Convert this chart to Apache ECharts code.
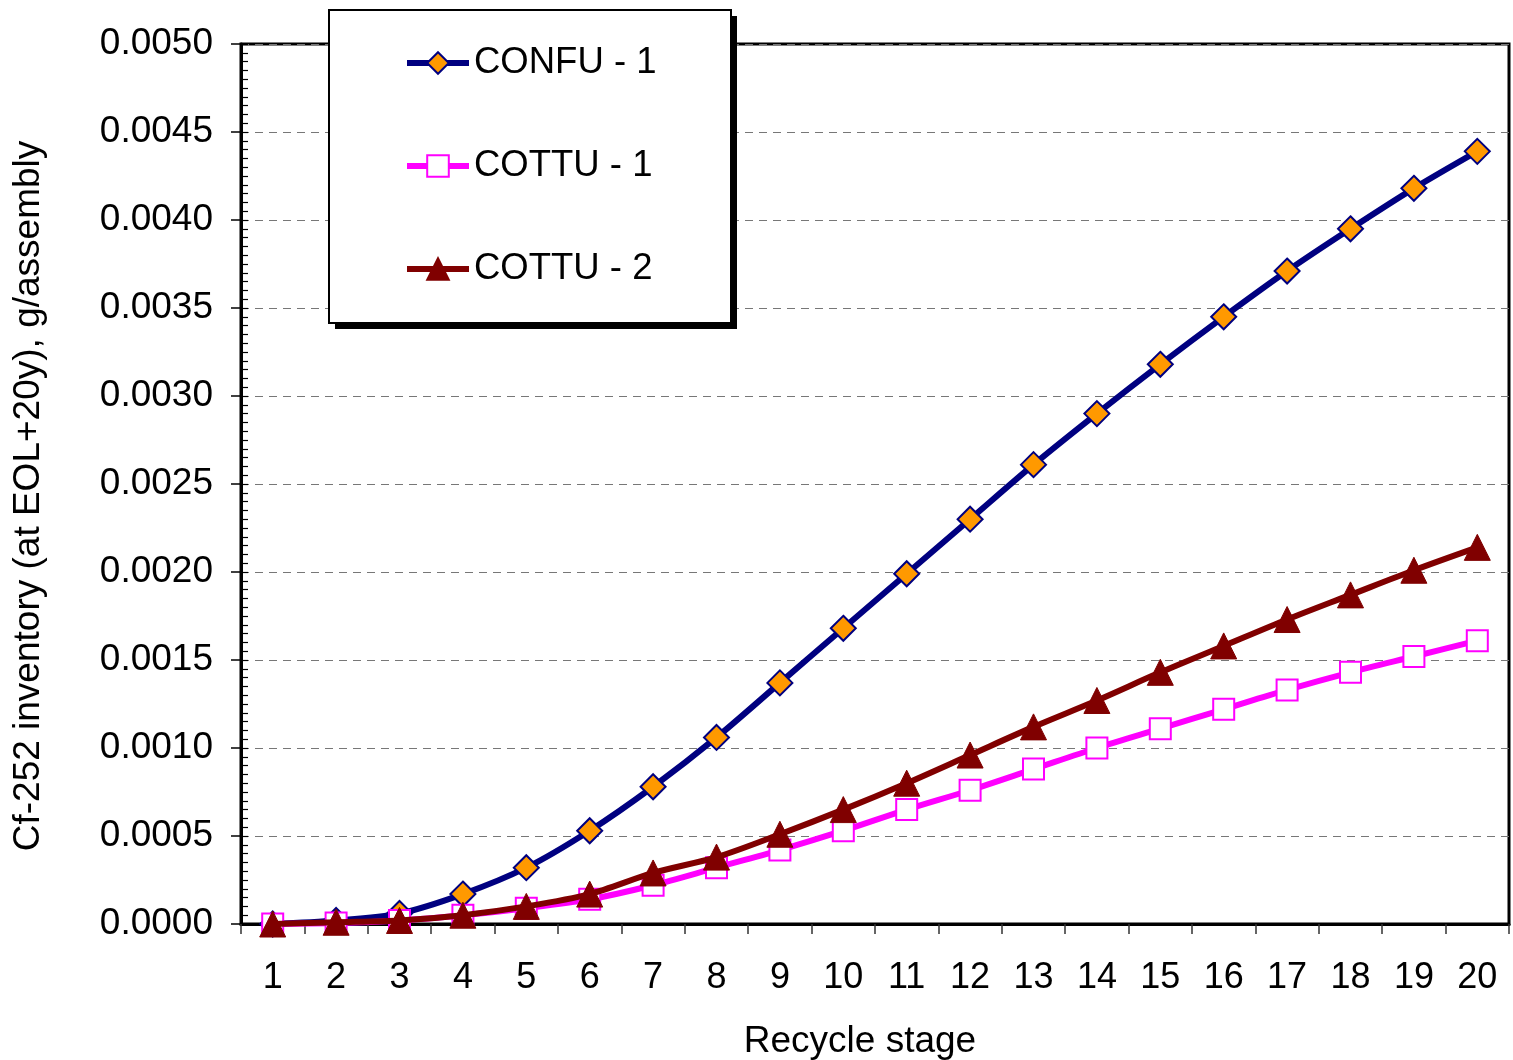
<!DOCTYPE html>
<html><head><meta charset="utf-8">
<script src="https://cdn.jsdelivr.net/npm/echarts@6/dist/echarts.min.js"></script>
<style>html,body{margin:0;padding:0;background:#fff}#c{width:1513px;height:1060px}</style>
</head><body><div id="c"></div>
<script>
const categories = ['1','2','3','4','5','6','7','8','9','10','11','12','13','14','15','16','17','18','19','20'];
const confu1 = [0,0.00002,0.00006,0.00017,0.00032,0.00053,0.00078,0.00106,0.00137,0.00168,0.00199,0.00230,0.00261,0.00290,0.00318,0.00345,0.00371,0.00395,0.00418,0.00439];
const cottu1 = [0,0.000005,0.00002,0.00005,0.00009,0.00014,0.00022,0.00032,0.00042,0.00053,0.00065,0.00076,0.00088,0.00100,0.00111,0.00122,0.00133,0.00143,0.00152,0.00161];
const cottu2 = [0,0.00001,0.00002,0.00005,0.00010,0.00017,0.00029,0.00038,0.00051,0.00065,0.00080,0.00096,0.00112,0.00127,0.00143,0.00158,0.00173,0.00187,0.00201,0.00214];
const seriesNames = ['CONFU - 1','COTTU - 1','COTTU - 2'];
const yMin = 0, yMax = 0.005, yStep = 0.0005;

const FONT = 'Liberation Sans, Arial, sans-serif';
const chart = echarts.init(document.getElementById('c'), null, {renderer:'canvas'});
chart.setOption({
  animation:false,
  backgroundColor:'#fff',
  grid:{left:241,right:4,top:44,bottom:136,outerBoundsMode:'none',containLabel:false,show:true,borderColor:'#000',borderWidth:3,backgroundColor:'transparent'},
  graphic:[
    {type:'rect',z:20,shape:{x:335,y:16,width:402,height:313},style:{fill:'#000'}},
    {type:'rect',z:21,shape:{x:329,y:10,width:402,height:313},style:{fill:'#fff',stroke:'#000',lineWidth:2}}
  ],
  legend:{
    left:404, top:43, orient:'vertical', z:30,
    padding:0,
    itemGap:63, itemWidth:62, itemHeight:27,
    backgroundColor:'transparent', borderWidth:0,
    textStyle:{fontFamily:FONT,fontSize:36.5,color:'#000',lineHeight:40},
    lineStyle:{width:6},
    data:seriesNames
  },
  xAxis:{
    type:'category', data:categories, boundaryGap:true,
    name:'Recycle stage', nameLocation:'middle', nameGap:99,
    nameTextStyle:{fontFamily:FONT,fontSize:37,color:'#000',padding:[0,30,0,0]},
    axisLine:{lineStyle:{color:'#000',width:3}},
    axisTick:{show:true,inside:false,length:10,lineStyle:{color:'#333',width:1.5},alignWithLabel:false},
    axisLabel:{fontFamily:FONT,fontSize:36,color:'#000',margin:36},
    splitLine:{show:false}
  },
  yAxis:[{
    type:'value', min:yMin, max:yMax, interval:yStep,
    name:'Cf-252 inventory (at EOL+20y), g/assembly', nameLocation:'middle', nameGap:194,
    nameTextStyle:{fontFamily:FONT,fontSize:37,color:'#000',padding:[0,24,0,0]},
    axisLine:{show:true,lineStyle:{color:'#000',width:3}},
    axisTick:{show:true,inside:false,length:10,lineStyle:{color:'#000',width:1.5}},
    axisLabel:{fontFamily:FONT,fontSize:37,color:'#000',margin:28,formatter:v=>v.toFixed(4)},
    splitLine:{show:true,lineStyle:{color:'#777',type:[8,6],width:1.2}}
  },{
    type:'value', min:yMin, max:yMax, interval:yStep/10, position:'left',
    axisLine:{show:false},
    axisTick:{show:true,inside:true,length:7,lineStyle:{color:'#000',width:1.2}},
    axisLabel:{show:false}, splitLine:{show:false}
  }],
  series:[
    {name:seriesNames[0],type:'line',data:confu1,smooth:0.3,symbol:'diamond',symbolSize:25,
     lineStyle:{color:'#000080',width:6},itemStyle:{color:'#FF9900',borderColor:'#000080',borderWidth:2},z:3},
    {name:seriesNames[1],type:'line',data:cottu1,smooth:0.3,symbol:'rect',symbolSize:21,
     lineStyle:{color:'#FF00FF',width:6},itemStyle:{color:'#FFFFFF',borderColor:'#FF00FF',borderWidth:2},z:4},
    {name:seriesNames[2],type:'line',data:cottu2,smooth:0.3,symbol:'triangle',symbolSize:26,
     lineStyle:{color:'#800000',width:6},itemStyle:{color:'#800000',borderColor:'#800000',borderWidth:1},z:5}
  ]
});
</script></body></html>
